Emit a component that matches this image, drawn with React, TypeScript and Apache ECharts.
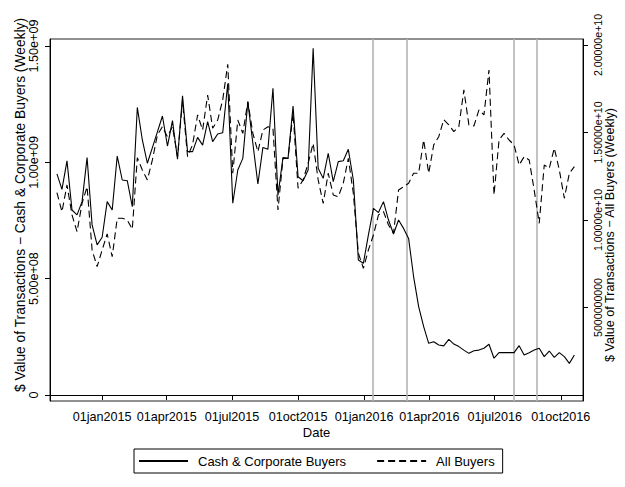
import { useEffect, useRef } from "react";
import * as echarts from "echarts";

const FONT = "Liberation Sans, Arial, sans-serif";
const DAY = 86400000;

// Weekly observations, first week
const firstWeek = "2014-10-30";

// Cash & Corporate Buyers, $ value per week, in billions (left axis)
const cashCorporate = [
  0.95, 0.884, 1.006, 0.795, 0.774, 0.831, 1.02, 0.731, 0.645, 0.678,
  0.831, 0.795, 1.027, 0.924, 0.921, 0.809, 1.236, 1.096, 0.996, 1.063,
  1.131, 1.199, 1.07, 1.179, 1.013, 1.286, 1.046, 1.046, 1.107, 1.074,
  1.175, 1.089, 1.122, 1.127, 1.339, 0.824, 0.967, 1.017, 1.26, 1.082,
  0.907, 1.064, 1.056, 1.318, 0.859, 1.021, 1.017, 1.242, 0.938, 0.921,
  0.967, 1.49, 0.974, 0.931, 1.039, 0.917, 1.003, 1.007, 1.056, 0.924,
  0.58, 0.566, 0.688, 0.802, 0.784, 0.831, 0.752, 0.692, 0.752, 0.716,
  0.673, 0.508, 0.38, 0.294, 0.222, 0.229, 0.215, 0.211, 0.239, 0.219,
  0.208, 0.193, 0.179, 0.19, 0.193, 0.201, 0.218, 0.158, 0.182, 0.182,
  0.182, 0.182, 0.212, 0.172, 0.182, 0.193, 0.201, 0.165, 0.189, 0.162,
  0.182, 0.165, 0.136, 0.172,
];

// All Buyers, $ value per week, in units of 1e10 (right axis)
const allBuyers = [
  1.156, 1.047, 1.2, 1.029, 0.933, 1.095, 1.19, 0.829, 0.733, 0.829,
  0.92, 0.79, 1.01, 1.01, 1.0, 0.947, 1.356, 1.286, 1.229, 1.343,
  1.486, 1.533, 1.476, 1.533, 1.362, 1.68, 1.362, 1.43, 1.6, 1.514,
  1.714, 1.524, 1.571, 1.686, 1.89, 1.267, 1.571, 1.495, 1.676, 1.495,
  1.39, 1.514, 1.533, 1.524, 1.057, 1.352, 1.352, 1.61, 1.181, 1.229,
  1.324, 1.438, 1.229, 1.095, 1.267, 1.143, 1.133, 1.21, 1.352, 1.152,
  0.81, 0.724, 0.829, 0.914, 1.029, 1.048, 0.971, 0.924, 1.171, 1.19,
  1.21, 1.267, 1.267, 1.457, 1.267, 1.429, 1.476, 1.573, 1.543, 1.505,
  1.533, 1.743, 1.543, 1.537, 1.629, 1.6, 1.857, 1.143, 1.457, 1.495,
  1.457, 1.429, 1.314, 1.362, 1.343, 1.171, 0.981, 1.314, 1.295, 1.41,
  1.286, 1.124, 1.267, 1.305,
];

const xTickDates = [
  "2015-01-01", "2015-04-01", "2015-07-01", "2015-10-01",
  "2016-01-01", "2016-04-01", "2016-07-01", "2016-10-01",
];
const eventDates = ["2016-01-13", "2016-02-29", "2016-07-27", "2016-08-28"];

const leftTicks = [0, 5e8, 1e9, 1.5e9];
const leftTickLabels = ["0", "5.00e+08", "1.00e+09", "1.50e+09"];
const rightTicks = [5e9, 1e10, 1.5e10, 2e10];
const rightTickLabels = ["5000000000", "1.00000e+10", "1.50000e+10", "2.00000e+10"];

const seriesNames = ["Cash & Corporate Buyers", "All Buyers"];
const xTitle = "Date";
const leftTitle = "$ Value of Transactions \u2212 Cash & Corporate Buyers (Weekly)";
const rightTitle = "$ Value of Transactions \u2212 All Buyers (Weekly)";

const MONTHS = ["jan", "feb", "mar", "apr", "may", "jun", "jul", "aug", "sep", "oct", "nov", "dec"];
const ts = (s: string) => Date.parse(s + "T00:00:00Z");
const fmtDate = (v: number) => {
  const d = new Date(v);
  const dd = String(d.getUTCDate()).padStart(2, "0");
  return dd + MONTHS[d.getUTCMonth()] + d.getUTCFullYear();
};

export default function App() {
  const ref = useRef<HTMLDivElement>(null);
  useEffect(() => {
    if (!ref.current) return;
    const chart = echarts.init(ref.current, undefined, { renderer: "svg" });
    const start = ts(firstWeek);
    const weeks = cashCorporate.map((_, i) => start + i * 7 * DAY);
    const cashData = cashCorporate.map((v, i) => [weeks[i], v * 1e9]);
    const allData = allBuyers.map((v, i) => [weeks[i], v * 1e10]);
    const xTicks = xTickDates.map(ts);

    chart.setOption({
      animation: false,
      backgroundColor: "#fff",
      grid: {
        left: 50, right: 42, top: 39, bottom: 86,
        show: true, borderColor: "#222", borderWidth: 1, backgroundColor: "#fff",
      },
      xAxis: {
        type: "value",
        min: Date.UTC(2014, 9, 20, 8),
        max: Date.UTC(2016, 10, 1),
        splitLine: { show: false },
        axisLine: { show: true, lineStyle: { color: "#000", width: 1 } },
        axisTick: { show: true, customValues: xTicks, length: 5, lineStyle: { color: "#000" } },
        axisLabel: {
          customValues: xTicks,
          formatter: (v: number) => fmtDate(v),
          color: "#000", fontFamily: FONT, fontSize: 12.6, margin: 9,
        },
      },
      yAxis: [
        {
          type: "value",
          position: "left",
          min: -2.58e7, max: 1.53e9,
          splitLine: { show: false },
          axisLine: { show: true, lineStyle: { color: "#000", width: 1 } },
          axisTick: { show: true, customValues: leftTicks, length: 5, lineStyle: { color: "#000" } },
          axisLabel: {
            customValues: leftTicks,
            formatter: (v: number) => leftTickLabels[leftTicks.indexOf(v)] ?? "",
            rotate: 90, color: "#000", fontFamily: FONT, fontSize: 12.6, margin: 10,
          },
        },
        {
          type: "value",
          position: "right",
          min: -3.43e8, max: 2.034e10,
          splitLine: { show: false },
          axisLine: { show: true, lineStyle: { color: "#000", width: 1 } },
          axisTick: { show: true, customValues: rightTicks, length: 5, lineStyle: { color: "#000" } },
          axisLabel: {
            customValues: rightTicks,
            formatter: (v: number) => rightTickLabels[rightTicks.indexOf(v)] ?? "",
            rotate: 90, color: "#000", fontFamily: FONT, fontSize: 10.6, margin: 9,
          },
        },
      ],
      legend: {
        left: 134, top: 449,
        orient: "horizontal",
        itemWidth: 49, itemHeight: 14, itemGap: 30,
        padding: [5.5, 8, 5.5, 4],
        borderColor: "#000", borderWidth: 1,
        backgroundColor: "#fff",
        itemStyle: { opacity: 0 },
        textStyle: { fontFamily: FONT, fontSize: 13, color: "#000", padding: [0, 0, 0, 5] },
        data: seriesNames,
      },
      graphic: [
        {
          type: "text", x: 316.5, y: 432, silent: true,
          style: { text: xTitle, align: "center", verticalAlign: "middle", fontFamily: FONT, fontSize: 13, fill: "#000" },
        },
        {
          type: "text", x: 20, y: 205, rotation: Math.PI / 2, silent: true,
          style: { text: leftTitle, align: "center", verticalAlign: "middle", fontFamily: FONT, fontSize: 13.8, fill: "#000" },
        },
        {
          type: "text", x: 610, y: 235, rotation: Math.PI / 2, silent: true,
          style: { text: rightTitle, align: "center", verticalAlign: "middle", fontFamily: FONT, fontSize: 12.6, fill: "#000" },
        },
      ],
      series: [
        {
          name: seriesNames[0],
          type: "line",
          yAxisIndex: 0,
          data: cashData,
          symbol: "none", showSymbol: false,
          lineStyle: { color: "#000", width: 1.1, type: "solid" },
          itemStyle: { color: "#000" },
          z: 3,
          markLine: {
            silent: true,
            symbol: ["none", "none"],
            label: { show: false },
            lineStyle: { color: "#b4b4b4", width: 1.6, type: "solid" },
            data: eventDates.map((d) => ({ xAxis: ts(d) })),
            z: 1,
          },
        },
        {
          name: seriesNames[1],
          type: "line",
          yAxisIndex: 1,
          data: allData,
          symbol: "none", showSymbol: false,
          lineStyle: { color: "#000", width: 1.1, type: [7, 4] },
          itemStyle: { color: "#000" },
          z: 2,
        },
      ],
    });
    return () => chart.dispose();
  }, []);
  return (
    <div
      ref={ref}
      style={{ position: "fixed", left: 0, top: 0, width: 625, height: 487, background: "#fff" }}
    />
  );
}
